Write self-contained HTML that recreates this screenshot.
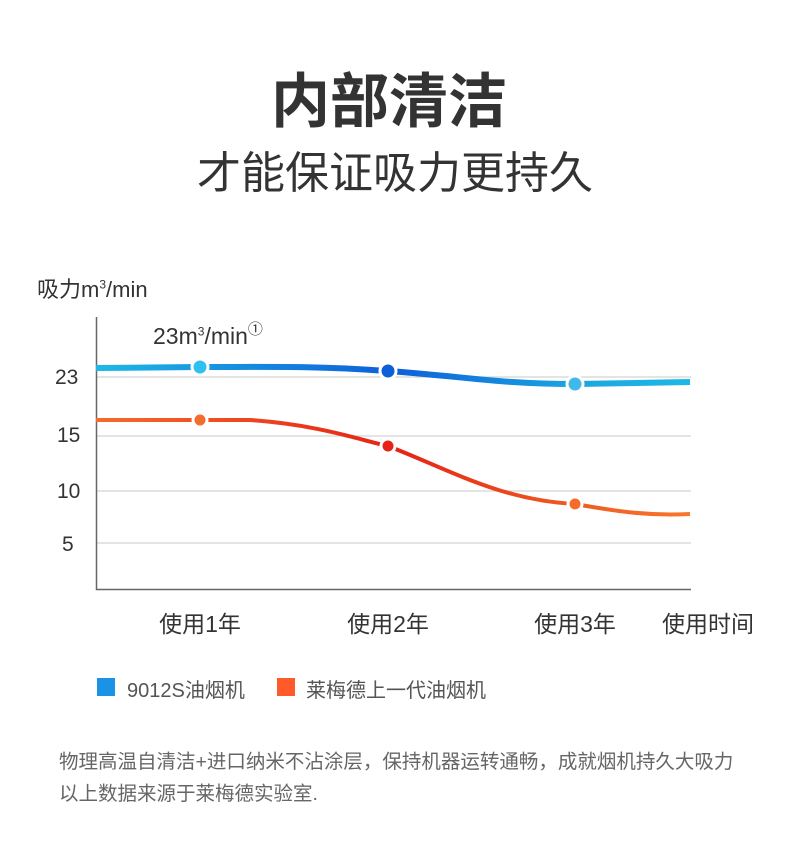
<!DOCTYPE html>
<html><head><meta charset="utf-8"><style>
body{margin:0;background:#fff;width:790px;height:860px;position:relative;overflow:hidden;font-family:"Liberation Sans","Noto Sans CJK SC",sans-serif;color:#333}
.a{position:absolute;white-space:nowrap}
</style></head><body>
<div class="a" style="left:-6px;width:790px;text-align:center;top:54px;font-size:59px;font-weight:bold;color:#333">内部清洁</div>
<div class="a" style="left:0;width:790px;text-align:center;top:137px;font-size:44px;color:#333">才能保证吸力更持久</div>
<div class="a" style="left:37px;top:272px;font-size:22px;color:#333">吸力m<sup style="font-size:12px">3</sup>/min</div>
<div class="a" style="left:153px;top:318px;font-size:23px;color:#333">23m<sup style="font-size:12px">3</sup>/min<sup style="font-size:15px;vertical-align:10px">①</sup></div>
<svg class="a" style="left:0;top:0" width="790" height="860">
<g stroke="#d4d4d4" stroke-width="1.2"><line x1="96" y1="377" x2="691" y2="377"/><line x1="96" y1="436" x2="691" y2="436"/><line x1="96" y1="491" x2="691" y2="491"/><line x1="96" y1="543" x2="691" y2="543"/></g>
<path d="M96.5 317V589.5H691" fill="none" stroke="#666" stroke-width="1.5"/>
<defs><linearGradient id="b" x1="96" x2="691" gradientUnits="userSpaceOnUse"><stop offset="0" stop-color="#1eb8e6"/><stop offset="0.5" stop-color="#0d5fd9"/><stop offset="0.8" stop-color="#1aa5e0"/><stop offset="1" stop-color="#1eb8e6"/></linearGradient>
<linearGradient id="r" x1="96" x2="691" gradientUnits="userSpaceOnUse"><stop offset="0" stop-color="#f66a2a"/><stop offset="0.5" stop-color="#e52316"/><stop offset="0.8" stop-color="#f05a20"/><stop offset="1" stop-color="#f7782e"/></linearGradient></defs>
<path d="M96 368L200 367C280 367 320 366 388 371C470 377 500 384 575 384L690 382" fill="none" stroke="url(#b)" stroke-width="6"/>
<path d="M96 420L250 420C320 425 360 440 388 446C450 470 500 500 575 504C620 512 650 516 690 514" fill="none" stroke="url(#r)" stroke-width="4"/>
<g stroke="#fff" stroke-width="3"><circle cx="200" cy="367" r="8" fill="#2ec0ee"/><circle cx="388" cy="371" r="8" fill="#0d5fd9"/><circle cx="575" cy="384" r="8" fill="#3fb8ea"/>
<circle cx="200" cy="420" r="7" fill="#f46b2c"/><circle cx="388" cy="446" r="7" fill="#e52316"/><circle cx="575" cy="504" r="7" fill="#f46b2c"/></g>
</svg>
<div class="a" style="left:55px;top:366px;font-size:21px">23</div>
<div class="a" style="left:57px;top:424px;font-size:21px">15</div>
<div class="a" style="left:57px;top:480px;font-size:21px">10</div>
<div class="a" style="left:62px;top:533px;font-size:21px">5</div>
<div class="a" style="left:140px;width:120px;text-align:center;top:605px;font-size:23px">使用1年</div>
<div class="a" style="left:328px;width:120px;text-align:center;top:605px;font-size:23px">使用2年</div>
<div class="a" style="left:515px;width:120px;text-align:center;top:605px;font-size:23px">使用3年</div>
<div class="a" style="left:662px;top:605px;font-size:23px">使用时间</div>
<div class="a" style="left:97px;top:678px;width:18px;height:18px;background:#1a92e6"></div>
<div class="a" style="left:127px;top:674px;font-size:20px;color:#555">9012S油烟机</div>
<div class="a" style="left:277px;top:678px;width:18px;height:18px;background:#ff5a2a"></div>
<div class="a" style="left:306px;top:674px;font-size:20px;color:#555">莱梅德上一代油烟机</div>
<div class="a" style="left:59px;top:745px;font-size:19.5px;color:#666">物理高温自清洁+进口纳米不沾涂层，保持机器运转通畅，成就烟机持久大吸力</div>
<div class="a" style="left:59px;top:777px;font-size:19.5px;color:#666">以上数据来源于莱梅德实验室.</div>
</body></html>
